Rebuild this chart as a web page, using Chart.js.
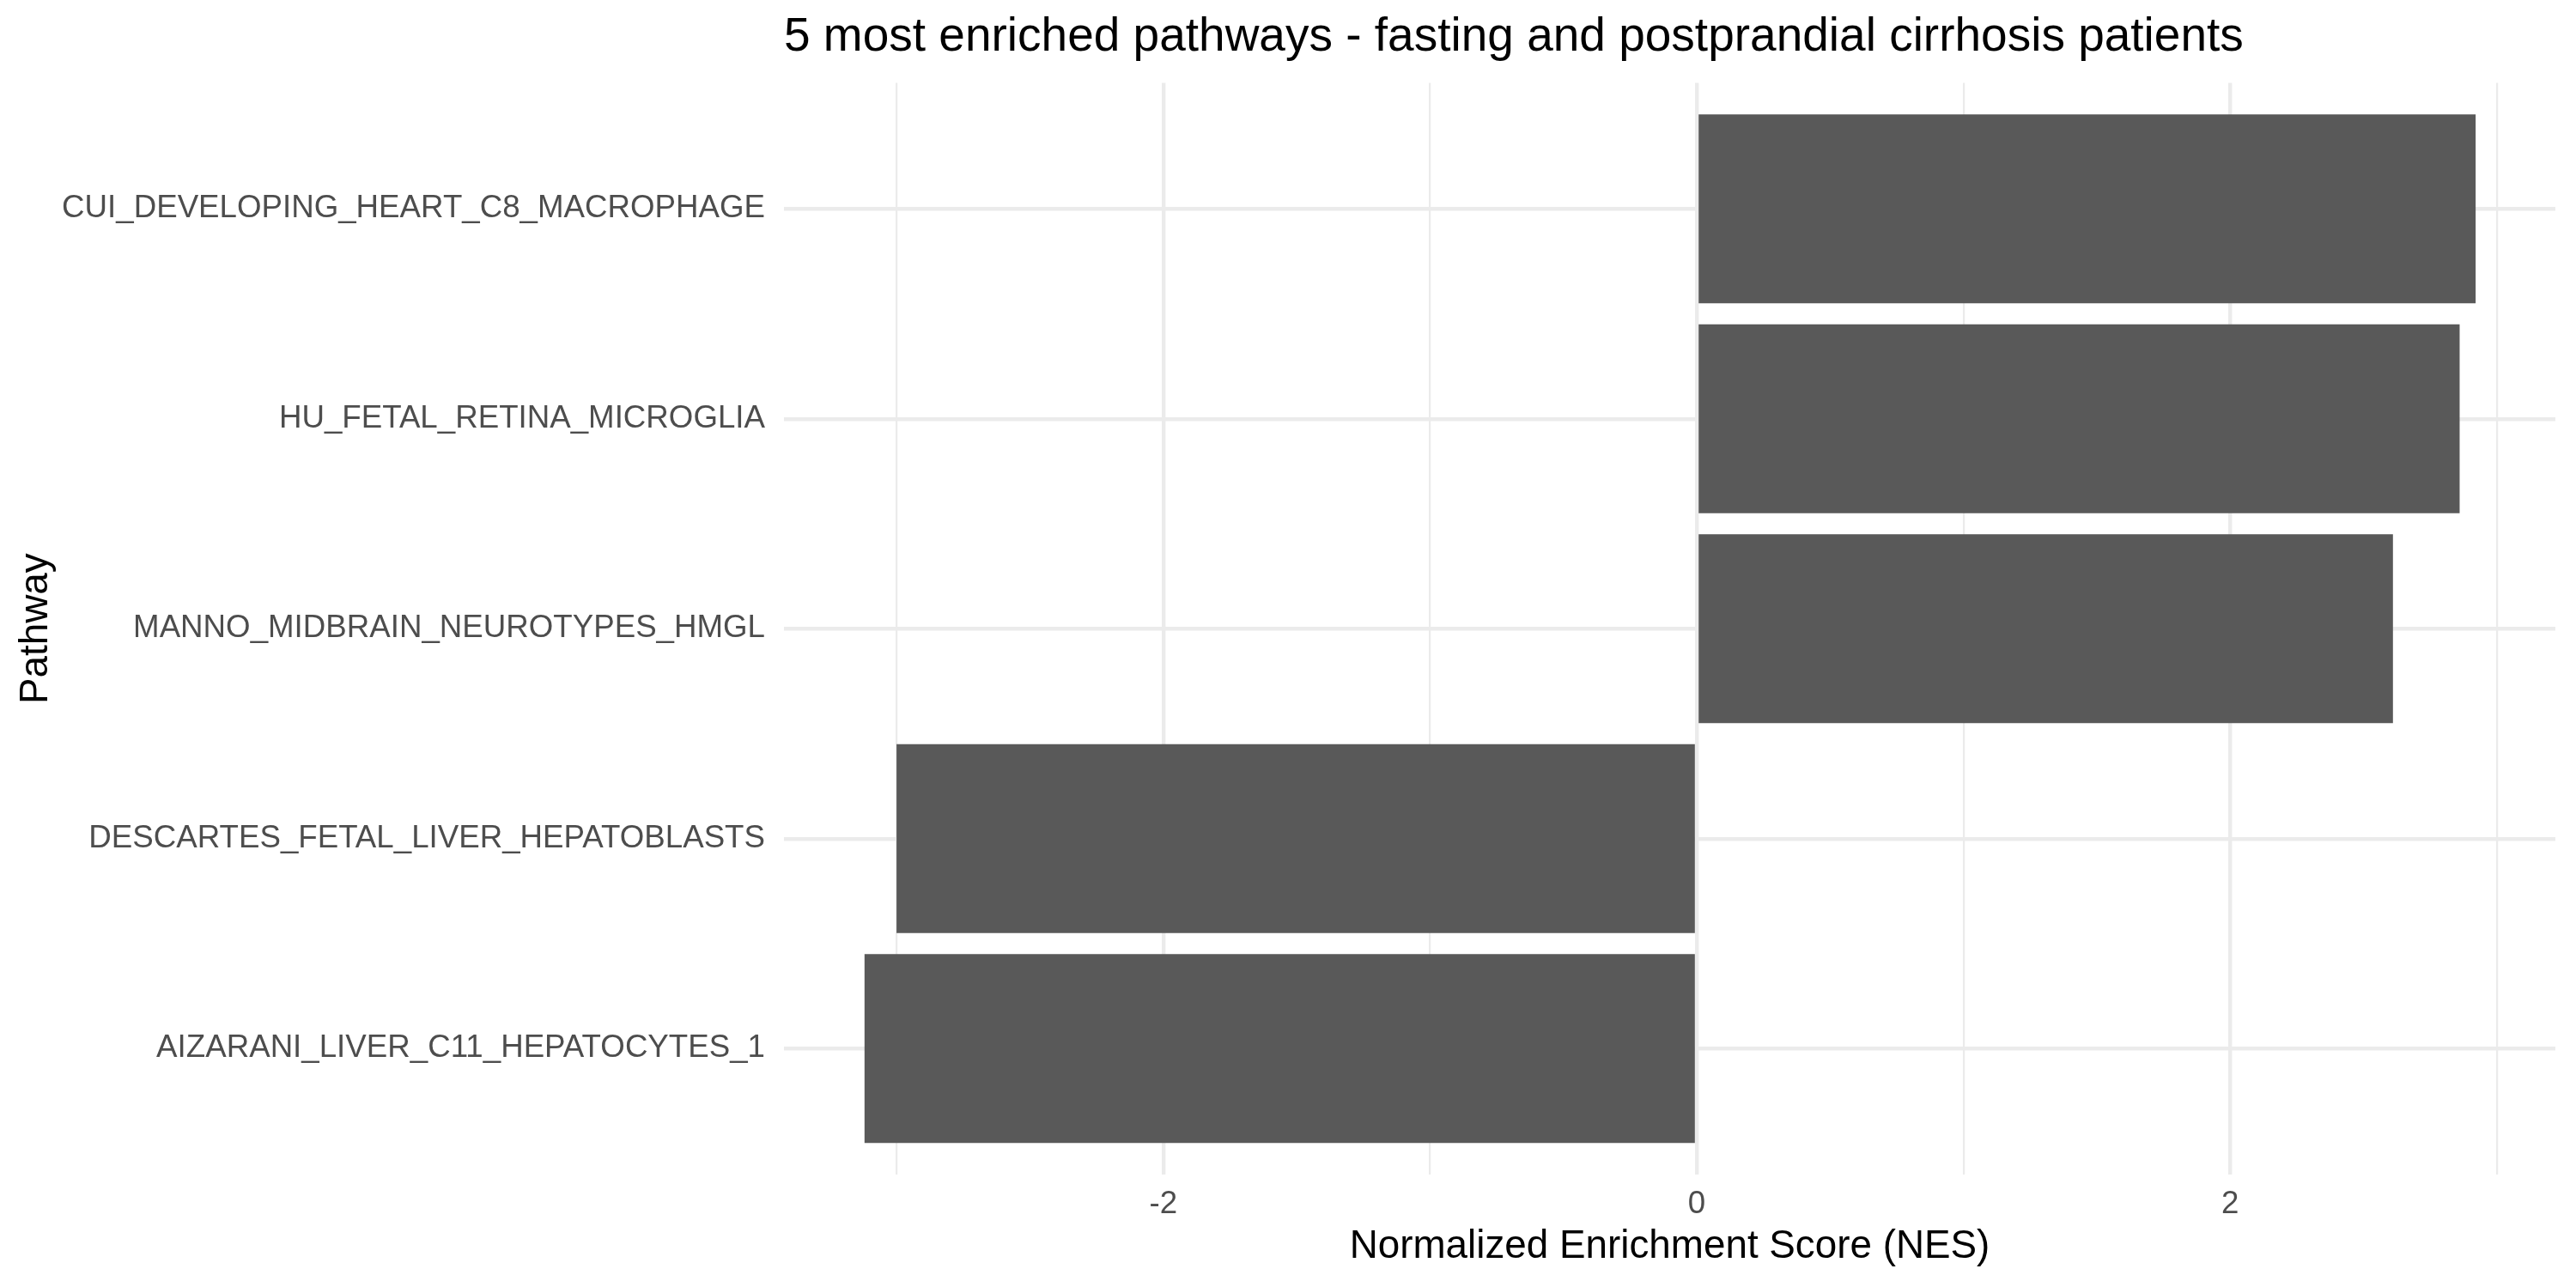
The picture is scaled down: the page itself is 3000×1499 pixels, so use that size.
<!DOCTYPE html>
<html>
<head>
<meta charset="utf-8">
<title>5 most enriched pathways</title>
<script src="https://cdn.jsdelivr.net/npm/chart.js@4/dist/chart.umd.min.js"></script>
<style>
  html, body { margin: 0; padding: 0; background: #fff; }
  canvas { display: block; }
</style>
</head>
<body>
<canvas id="nesChart" width="3000" height="1499"></canvas>
<script>
// pathways listed top to bottom, as in the figure
const pathways = [
  'CUI_DEVELOPING_HEART_C8_MACROPHAGE',
  'HU_FETAL_RETINA_MICROGLIA',
  'MANNO_MIDBRAIN_NEUROTYPES_HMGL',
  'DESCARTES_FETAL_LIVER_HEPATOBLASTS',
  'AIZARANI_LIVER_C11_HEPATOCYTES_1'
];
const nesValues = [2.92, 2.86, 2.61, -3.00, -3.12];
const positions = [1, 2, 3, 4, 5];
const xTicks = [-3, -2, -1, 0, 1, 2, 3];
const xLabelled = [-2, 0, 2];

const GRID = '#EBEBEB';
Chart.defaults.font.family = "'Liberation Sans', Arial, sans-serif";

function init() {
  const ctx = document.getElementById('nesChart').getContext('2d');

  new Chart(ctx, {
    type: 'bar',
    data: {
      datasets: [{
        label: 'NES',
        data: positions.map((p, i) => ({ x: nesValues[i], y: p })),
        backgroundColor: '#595959',
        borderWidth: 0,
        categoryPercentage: 1.0,
        barPercentage: 0.9
      }]
    },
    options: {
      indexAxis: 'y',
      responsive: false,
      devicePixelRatio: 1,
      animation: false,
      layout: { padding: { left: 0, right: 24, top: 0, bottom: 0 } },
      plugins: {
        legend: { display: false },
        tooltip: { enabled: false },
        title: {
          display: true,
          text: '5 most enriched pathways - fasting and postprandial cirrhosis patients',
          align: 'start',
          fullSize: false,
          color: '#000000',
          font: { size: 55, weight: 'normal' },
          padding: { top: 11, bottom: 19.5 }
        }
      },
      scales: {
        x: {
          type: 'linear',
          min: -3.422,
          max: 3.219,
          afterBuildTicks: (scale) => { scale.ticks = xTicks.map(v => ({ value: v })); },
          afterFit: (scale) => { scale.height = 131; },
          border: { display: false },
          grid: {
            color: GRID,
            drawTicks: false,
            lineWidth: (c) => xLabelled.includes(c.tick.value) ? 4.4 : 2.2
          },
          ticks: {
            autoSkip: false,
            maxRotation: 0,
            padding: 12.5,
            color: '#4D4D4D',
            font: { size: 36.7 },
            callback: (v) => xLabelled.includes(v) ? String(v) : ''
          },
          title: {
            display: true,
            text: 'Normalized Enrichment Score (NES)',
            color: '#000000',
            font: { size: 45.8 },
            padding: { top: 0, bottom: 19.5 }
          }
        },
        y: {
          type: 'linear',
          reverse: true,
          offset: false,
          min: 0.4,
          max: 5.6,
          afterBuildTicks: (scale) => { scale.ticks = positions.map(v => ({ value: v })); },
          afterFit: (scale) => { scale.width = 913; },
          border: { display: false },
          grid: { color: GRID, lineWidth: 4.4, drawTicks: false, offset: false },
          ticks: {
            autoSkip: false,
            padding: 22,
            color: '#4D4D4D',
            font: { size: 36.7 },
            callback: (v) => pathways[v - 1] || ''
          },
          title: {
            display: true,
            text: 'Pathway',
            color: '#000000',
            font: { size: 45.8 },
            padding: { top: 14.5, bottom: 0 }
          }
        }
      }
    }
  });
}

init();
</script>
</body>
</html>
